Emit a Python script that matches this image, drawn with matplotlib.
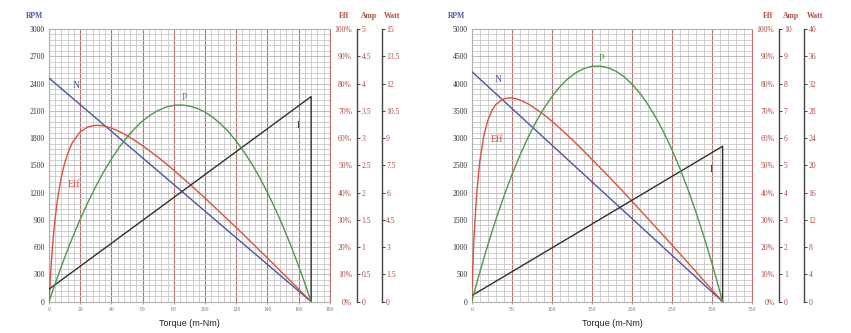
import matplotlib
matplotlib.use('Agg')
import matplotlib.pyplot as plt
from matplotlib.ticker import MultipleLocator, FuncFormatter

# ── Data: left motor ──────────────────────────────────────────────────────────
L_N_T = [0, 168]
L_N = [2460, 0]
L_I_T = [0, 168, 168]
L_I = [0.23, 3.76, 0]
L_T = [0, 1, 2, 3, 4, 5, 6, 8, 10, 12,
       15, 20, 25, 30, 35, 40, 45, 50, 55, 60, 65, 70, 75, 80, 85, 90, 95,
       100, 105, 110, 115, 120, 125, 130, 135, 140, 145, 150, 155, 160,
       164, 168]
L_EFF = [0, 10.2, 18.5, 25.3, 30.9, 35.6, 39.6, 46.0, 50.8, 54.4,
         58.4, 62.3, 64.1, 64.7, 64.5, 63.7, 62.4, 60.9, 59.1, 57.2, 55.1,
         52.9, 50.6, 48.2, 45.7, 43.2, 40.6, 38.0, 35.3, 32.6, 29.9, 27.2,
         24.4, 21.6, 18.8, 16.0, 13.2, 10.3, 7.5, 4.6,
         2.3, 0]
L_P = [0, 0.26, 0.51, 0.76, 1.01, 1.25, 1.49, 1.96, 2.42, 2.87,
       3.52, 4.54, 5.48, 6.35, 7.14, 7.85, 8.49, 9.05, 9.53, 9.94, 10.27,
       10.52, 10.70, 10.80, 10.82, 10.76, 10.63, 10.43, 10.14, 9.78, 9.35,
       8.83, 8.24, 7.58, 6.83, 6.01, 5.11, 4.14, 3.09, 1.96,
       1.01, 0]

# ── Data: right motor ─────────────────────────────────────────────────────────
R_N_T = [0, 313]
R_N = [4220, 0]
R_I_T = [0, 313, 313]
R_I = [0.22, 5.7, 0]
R_T = [0, 1.5, 3, 6, 10, 15, 20, 25, 30,
       40, 50, 60, 70, 80, 90, 100, 110, 120, 130, 140, 150, 160, 170, 180,
       190, 200, 210, 220, 230, 240, 250, 260, 270, 280, 290, 300,
       307, 313]
R_EFF = [0, 13.7, 24.1, 38.9, 51.3, 60.7, 66.4, 70.0, 72.3,
         74.4, 74.8, 74.0, 72.6, 70.7, 68.6, 66.2, 63.6, 60.9, 58.1, 55.2,
         52.2, 49.2, 46.2, 43.1, 40.0, 36.8, 33.6, 30.4, 27.2, 24.0, 20.7,
         17.5, 14.2, 10.9, 7.6, 4.3,
         2.0, 0]
R_P = [0, 0.66, 1.31, 2.60, 4.28, 6.31, 8.27, 10.17, 11.99,
       15.42, 18.57, 21.43, 24.02, 26.32, 28.34, 30.07, 31.53, 32.70, 33.59,
       34.20, 34.52, 34.56, 34.32, 33.80, 33.00, 31.91, 30.54, 28.89, 26.95,
       24.74, 22.24, 19.46, 16.39, 13.05, 9.42, 5.51,
       2.60, 0]

SERIF = 'Liberation Serif'
SANS = 'Liberation Sans'
C_N = '#4a56a8'
C_EFF = '#e0503c'
C_P = '#4c9a48'
C_I = '#303030'
C_RED = '#b04a40'
C_MAJ = '#b87070'
C_GRID = '#c8c8c8'

fmt = FuncFormatter(lambda v, p: '%g' % v)


def side_axis(ax, pos, top, step, series_x, series_y, color):
    a = ax.twinx()
    a.set_ylim(0, top)
    a.yaxis.set_major_locator(MultipleLocator(step))
    a.yaxis.set_major_formatter(fmt)
    for s in ['left', 'top', 'bottom']:
        a.spines[s].set_visible(False)
    a.spines['right'].set_position(('axes', pos))
    a.spines['right'].set_color('#444444')
    a.spines['right'].set_linewidth(1.0)
    a.tick_params(axis='y', length=2.2, width=0.7, pad=1, labelsize=5.5,
                  labelcolor=C_RED, color='#444444')
    for lb in a.get_yticklabels():
        lb.set_fontfamily(SERIF)
    a.plot(series_x, series_y, color=color, linewidth=1.0)
    return a


def panel(fig, rect, xmax, xstep, xminor, ymax, ystep, yminor, amp_max, amp_step,
          watt_max, watt_step, nt, n, it, i, t, eff, pw, labels):
    ax = fig.add_axes(rect)
    ax.set_xlim(0, xmax)
    ax.set_ylim(0, ymax)
    ax.xaxis.set_major_locator(MultipleLocator(xstep))
    ax.xaxis.set_minor_locator(MultipleLocator(xminor))
    ax.yaxis.set_major_locator(MultipleLocator(ystep))
    ax.yaxis.set_minor_locator(MultipleLocator(yminor))
    ax.grid(True, which='minor', color=C_GRID, linewidth=0.6)
    ax.grid(True, axis='y', which='major', color='#b4b4b4', linewidth=0.6)
    ax.grid(True, axis='x', which='major', color=C_MAJ, linewidth=0.8)
    ax.set_axisbelow(True)
    for s in ['left', 'top', 'bottom']:
        ax.spines[s].set_color('#b0b0b0')
        ax.spines[s].set_linewidth(0.8)
    ax.spines['right'].set_color(C_MAJ)
    ax.tick_params(axis='y', which='both', length=0, pad=3, labelsize=5.5,
                   labelcolor='#333333')
    ax.tick_params(axis='x', which='major', length=1.5, pad=2, labelsize=4,
                   labelcolor='#777777', color='#999999')
    ax.tick_params(axis='x', which='minor', length=0)
    for lb in ax.get_xticklabels() + ax.get_yticklabels():
        lb.set_fontfamily(SERIF)
    ax.set_xlabel('Torque (m-Nm)', fontsize=6.5, family=SANS, labelpad=5,
                  color='#222222')
    ax.plot(nt, n, color=C_N, linewidth=1.0, zorder=3)

    # Eff axis: labels only, no spine
    ax_e = ax.twinx()
    ax_e.set_ylim(0, 100)
    ax_e.yaxis.set_major_locator(MultipleLocator(10))
    ax_e.yaxis.set_major_formatter(FuncFormatter(lambda v, p: '%d%%' % v))
    ax_e.tick_params(axis='y', length=0, pad=16, labelsize=5.5,
                     labelcolor=C_RED)
    for lb in ax_e.get_yticklabels():
        lb.set_fontfamily(SERIF)
        lb.set_horizontalalignment('right')
    for s in ax_e.spines.values():
        s.set_visible(False)
    ax_e.plot(t, eff, color=C_EFF, linewidth=1.0)

    side_axis(ax, 1.097, amp_max, amp_step, it, i, C_I)
    side_axis(ax, 1.185, watt_max, watt_step, t, pw, C_P)

    # headers
    hdr = dict(transform=ax.transAxes, fontsize=5.5, family=SERIF,
               fontweight='bold', ha='center', va='center')
    ax.text(-0.053, 1.048, 'RPM', color=C_N, **hdr)
    ax.text(labels['eff_hx'], 1.048, 'Eff', color=C_RED, **hdr)
    ax.text(1.139, 1.048, 'Amp', color=C_RED, **hdr)
    ax.text(1.223, 1.048, 'Watt', color=C_RED, **hdr)

    # curve labels (data coords of main axes)
    for txt, (x, y), c in [('N', labels['N'], C_N), ('P', labels['P'], C_P),
                           ('I', labels['I'], C_I), ('Eff', labels['Eff'], C_EFF)]:
        ax.text(x, y, txt, color=c, fontsize=7, family=SERIF, ha='center',
                va='center', zorder=5)
    return ax


fig = plt.figure(figsize=(8.51, 3.33), dpi=100)
fig.patch.set_facecolor('white')

panel(fig, [0.0576, 0.094, 0.330, 0.819], 180, 20, 4, 3000, 300, 60,
      5, 0.5, 15, 1.5, L_N_T, L_N, L_I_T, L_I, L_T, L_EFF, L_P,
      {'eff_hx': 1.052, 'N': (17.3, 2373), 'P': (87, 2250),
       'I': (160, 1940), 'Eff': (16, 1290)})

panel(fig, [0.5543, 0.094, 0.3297, 0.819], 350, 50, 10, 5000, 500, 100,
      10, 1, 40, 4, R_N_T, R_N, R_I_T, R_I, R_T, R_EFF, R_P,
      {'eff_hx': 1.056, 'N': (33, 4075), 'P': (162, 4460),
       'I': (299, 2420), 'Eff': (31, 2970)})

fig.savefig('out.png', dpi=100, facecolor='white')
